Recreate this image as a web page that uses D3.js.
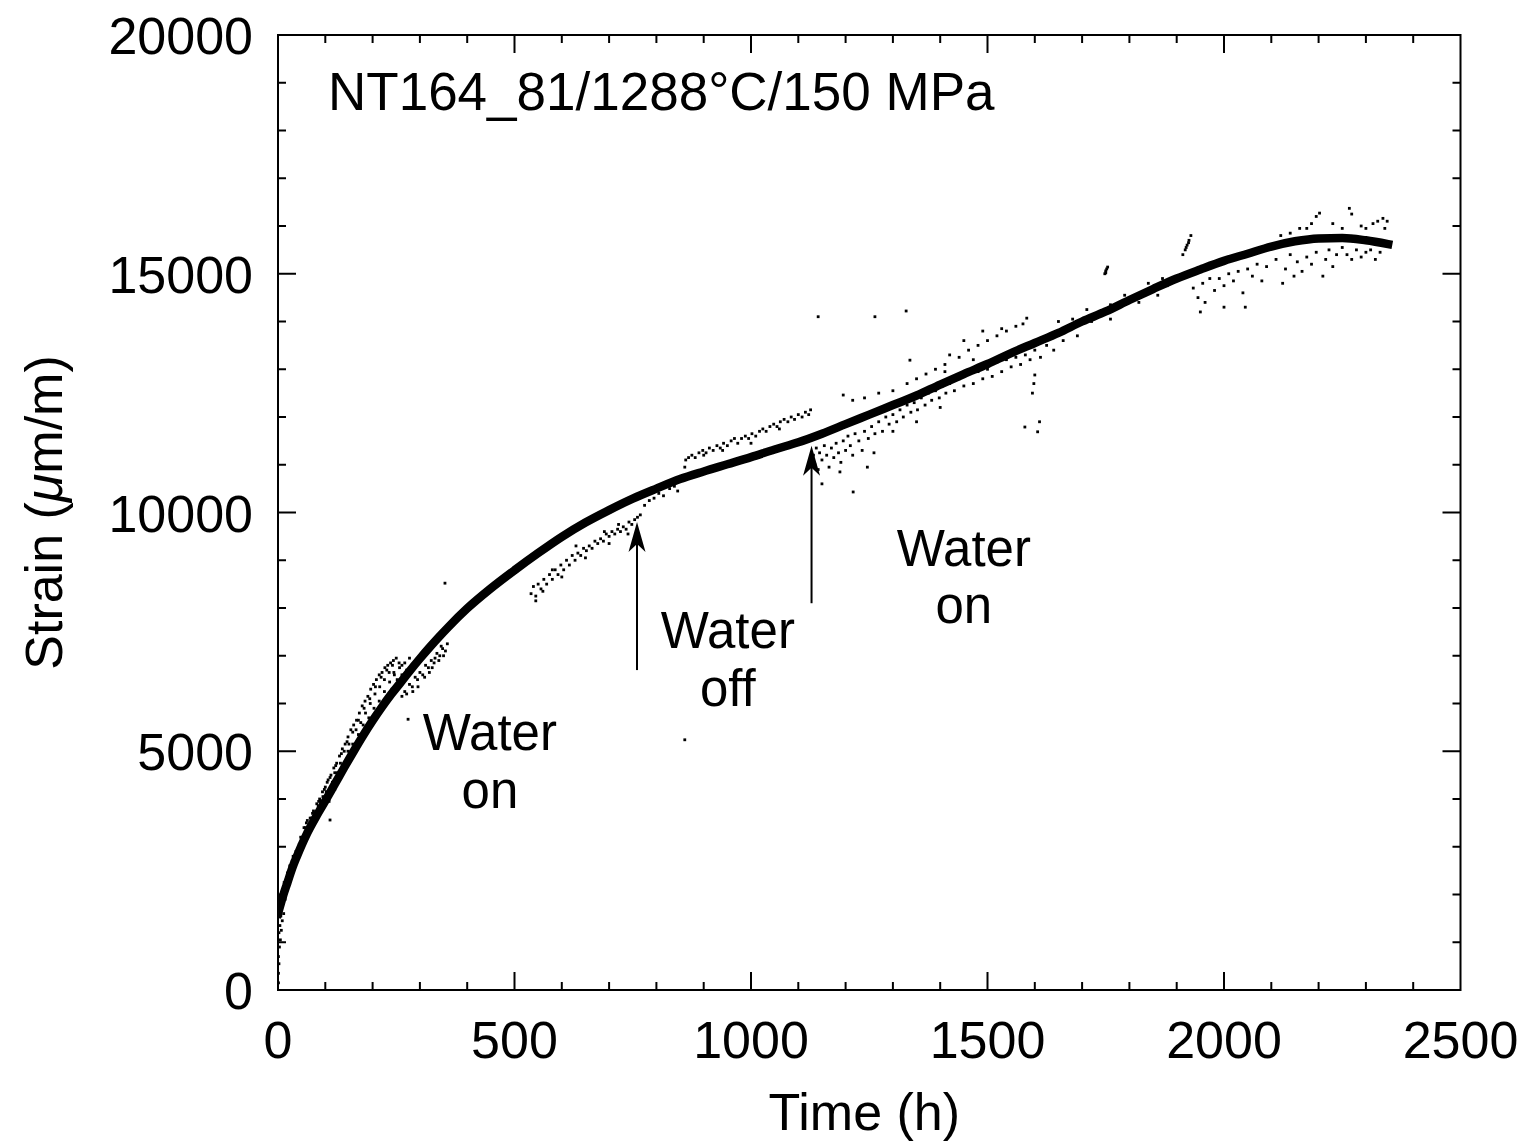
<!DOCTYPE html>
<html>
<head>
<meta charset="utf-8">
<script src="https://cdn.jsdelivr.net/npm/d3@7"></script>
<style>
html,body{margin:0;padding:0;background:#fff;}
svg text{font-family:"Liberation Sans",Arial,Helvetica,sans-serif;fill:#000;}
</style>
</head>
<body>
<svg id="chart" width="1528" height="1146"></svg>
<script>
// ---------------- DATA ----------------
const xTicks = [0, 500, 1000, 1500, 2000, 2500];
const yTicks = [0, 5000, 10000, 15000, 20000];
const titleText = "NT164_81/1288°C/150 MPa";
const xLabel = "Time (h)";

// smoothed fit curve (time h, strain µm/m)
const curveT = [0, 10, 20, 30, 40, 60, 80, 100, 120, 140, 160, 180, 200, 220, 240, 260, 280, 300, 320, 340, 360, 400, 450, 500, 550, 600, 650, 700, 750, 800, 850, 900, 950, 1000, 1050, 1100, 1150, 1200, 1250, 1300, 1350, 1400, 1450, 1500, 1550, 1600, 1650, 1700, 1750, 1800, 1850, 1900, 1950, 2000, 2050, 2100, 2150, 2200, 2250, 2300, 2347];
const curveS = [1600, 1950, 2250, 2550, 2800, 3250, 3620, 3960, 4310, 4660, 5000, 5330, 5640, 5930, 6200, 6450, 6700, 6940, 7170, 7390, 7600, 7990, 8410, 8790, 9150, 9490, 9790, 10050, 10290, 10500, 10700, 10860, 11010, 11160, 11320, 11470, 11650, 11850, 12050, 12250, 12450, 12680, 12900, 13110, 13340, 13550, 13760, 14000, 14210, 14450, 14680, 14900, 15090, 15270, 15420, 15570, 15680, 15740, 15750, 15700, 15620];

// raw measured points, grouped by period
const rawStart = [[1,150],[1,350],[2,550],[1,700],[3,900],[5,1050],[2,1200],[7,1250],[4,1350],[9,1450],[6,1550],[12,1600],[3,1700],[10,1800],[15,1900],[8,2000],[18,2150],[13,2250],[22,2300],[26,2450],[5,1750],[11,2050],[17,2300],[20,2450]];
const rawWaterOn1 = [[25,2600],[32,2800],[40,2750],[45,3050],[52,3100],[58,3400],[65,3350],[70,3600],[78,3550],[85,3850],[90,3700],[95,4050],[102,4150],[108,3950],[115,4350],[120,4200],[125,4550],[130,4400],[136,4700],[142,4650],[148,5000],[153,4850],[158,5150],[163,5050],[170,5350],[175,5250],[180,5550],[186,5400],[192,5700],[197,5600],[203,5900],[208,5750],[214,6050],[220,5950],[225,6250],[230,6100],[236,6450],[241,6300],[246,6600],[252,6500],[257,6750],[262,6600],[268,6850],[272,6700],[278,6950],[283,6800],
 [55,3400],[62,3550],[68,3600],[75,3750],[82,3900],[88,4000],[94,4150],[100,4250],[106,4400],[112,4500],[118,4650],[124,4750],[130,4900],[136,5050],[142,5150],[148,5300],[154,5450],[160,5550],[166,5650],[172,5800],[178,5950],[184,6050],[190,6150],[196,6300],[202,6400],[208,6500],[214,6600],[220,6650],[226,6750],[232,6800],[238,6850],[244,6900],[250,6950],[256,6850],[262,6800],[120,4550],[140,5000],[165,5450],[185,5800],[205,6200],[225,6500],[245,6650],[104,4350],[150,5150],[195,6000],[235,6650],[215,6350],[175,5600],[132,4750],[90,3950],
 [60,3500],[73,3700],[86,3950],[98,4200],[110,4450],[122,4700],[134,4950],[146,5200],[158,5400],[170,5650],[182,5900],[194,6100],[206,6350],[218,6550],[230,6700],[242,6800],[30,2700],[38,2900],[48,3200],
 [35,2650],[45,2950],[50,3000],[72,3450],[110,3560],[135,4600],[155,4950],[210,5800],[250,6350],[270,6550],
 [262,6150],[268,6250],[272,6200],[278,6400],[284,6350],[290,6550],[295,6500],[300,6650],[306,6600],[312,6800],[318,6750],[324,6900],[330,6850],[336,7050],[342,7000],[348,7150],[354,7100],[358,7250],[350,7000],[320,6650],[285,6250],[345,7200],[332,6950],[275,5670],[353,8520],[296,6350],[310,6550],[326,6750],[340,6900],
 [535,8300],[540,8450],[545,8250],[550,8500],[556,8400],[562,8600],[568,8500],[574,8700],[580,8600],[586,8800],[592,8700],[598,8900],[604,8800],[610,9000],[616,8900],[622,9100],[628,9000],[634,9150],[640,9100],[646,9250],[652,9200],[658,9300],[664,9250],[670,9400],[676,9350],[682,9450],[688,9400],[694,9550],[700,9500],[706,9600],[712,9550],[718,9650],[724,9600],[730,9700],[736,9650],[742,9800],[748,9750],[754,9850],[760,9900],[545,8150],[600,8650],[650,9050],[700,9350],[740,9550],[580,8800],[630,9300],[690,9600],[560,8350],[720,9750]];
const rawWaterOff = [[766,9950],[775,10150],[785,10250],[795,10300],[805,10400],[815,10350],[828,10500],[838,10550],[845,10450],[860,5240],
 [860,10950],[862,11100],[868,11150],[875,11200],[882,11150],[890,11250],[898,11300],[905,11250],[912,11350],[920,11300],[928,11400],[935,11350],[942,11450],[950,11400],[958,11500],[965,11550],[972,11450],[980,11550],[988,11600],[995,11550],[1002,11650],[1010,11600],[1018,11700],[1025,11750],[1032,11700],[1040,11800],[1048,11850],[1055,11800],[1062,11900],[1070,11950],[1078,11900],[1085,12000],[1092,11950],[1100,12050],[1108,12000],[1115,12100],[1122,12050],[1126,12150],[900,11200],[940,11300],[1000,11450],[1060,11750]];
const rawWaterOn2 = [[1132,11200],[1135,11000],[1138,11350],[1142,10900],[1145,11250],[1150,11100],[1155,11400],[1160,11200],[1165,10950],[1170,11350],[1175,11150],[1180,11450],[1185,11250],[1190,11050],[1195,11500],[1200,11300],[1205,11600],[1210,11400],[1215,11200],[1220,11650],[1228,11500],[1235,11300],[1240,11700],[1248,11550],[1255,11800],[1262,11650],[1270,11900],[1278,11700],[1285,12000],[1292,11850],[1300,12050],[1308,11900],[1315,12150],[1322,12000],[1330,12250],[1338,12100],[1345,12300],[1352,12150],[1360,12400],[1368,12250],[1375,12500],[1382,12350],[1390,12550],[1398,12400],[1405,12650],[1412,12500],[1420,12700],[1430,12550],[1440,12800],[1450,12650],[1460,12900],[1470,12700],[1480,12950],[1490,12800],[1500,13000],[1510,12850],[1520,13150],[1530,12950],[1540,13200],[1550,13050],[1560,13250],[1570,13100],[1580,13300],[1590,13200],[1600,13400],[1612,13250],[1625,13500],[1640,13400],[1150,10600],[1188,10850],[1216,10430],[1246,10950],[1260,11250],[1300,11700],[1350,11900],[1400,12200],
 [1195,12460],[1215,12350],[1240,12400],[1270,12500],[1300,12550],[1330,12700],[1350,12800],[1370,12900],[1390,13000],[1410,13100],[1420,13300],[1440,13250],[1460,13400],[1480,13500],[1500,13600],[1520,13700],[1540,13800],[1560,13900],[1575,13950],[1450,13600],[1490,13800],[1530,13850],[1410,12950],[1470,13200],
 [1142,14100],[1262,14100],[1328,14220],[1336,13190],[1579,11790],[1606,11690],[1610,11900],[1595,12500],[1598,12700],[1600,12880],[1583,14070],
 [1680,14050],[1720,14000],[1760,14350],[1790,14550],[1820,14400],[1840,14800],[1860,14550],[1870,14900],[1880,14750],[1690,13700],[1710,14250],[1650,14000],[1660,13600],[1760,14050],
 [1748,15000],[1750,15060],[1752,15100],[1754,15140],[1750,15020],
 [1913,15400],[1918,15500],[1922,15600],[1926,15700],[1930,15800],[1920,15550],[1925,15650],
 [1935,14700],[1945,14500],[1955,14800],[1960,14400],[1970,14900],[1980,14650],[1990,14900],[2000,14750],[2010,15000],[2020,14850],[2030,15050],[2040,14600],[2050,15100],[2060,14950],[2070,15200],[2080,14850],[2090,15150],[1950,14200],[2000,14300],[2045,14300],
 [2110,15300],[2124,14800],[2130,15100],[2140,15400],[2148,14950],[2155,15250],[2165,15050],[2175,15350],[2185,15200],[2195,15450],[2209,14950],[2215,15300],[2222,15500],[2230,15150],[2238,15400],[2250,15550],[2260,15400],[2270,15300],[2280,15500],[2290,15350],[2300,15450],[2310,15500],[2320,15300],[2330,15450],
 [2120,15800],[2140,15850],[2160,15950],[2175,15950],[2185,16050],[2195,16200],[2202,16270],[2230,16050],[2250,15950],[2265,16370],[2270,16250],[2290,16000],[2300,15950],[2315,16050],[2325,16100],[2336,16160],[2340,15950],[2345,16100]];

// annotations: [label lines, centre time, baseline strain of first line]
const noteLabels = [["Water","on"],["Water","off"],["Water","on"]];
const noteT = [448, 951, 1450];
const noteS = [5020, 7160, 8880];
// arrows: time, tip strain, tail strain
const arrowT = [759, 1128];
const arrowTipS = [9800, 11400];
const arrowTailS = [6700, 8100];

// ---------------- CHART ----------------
const svg = d3.select("#chart");
const L = 278, R = 1460.5, T = 35, B = 990;
const x = d3.scaleLinear().domain([0, 2500]).range([L, R]);
const y = d3.scaleLinear().domain([0, 20000]).range([B, T]);
const FS = 52;
const NFS = 51;

svg.append("defs").append("clipPath").attr("id","clip")
  .append("rect").attr("x", L).attr("y", T).attr("width", R-L).attr("height", B-T);

const plot = svg.append("g").attr("clip-path","url(#clip)");

// raw points
const raw = rawStart.concat(rawWaterOn1, rawWaterOff, rawWaterOn2);
plot.append("g").selectAll("rect").data(raw).join("rect")
  .attr("x", d => x(d[0]) - 1.4).attr("y", d => y(d[1]) - 1.4)
  .attr("width", 2.8).attr("height", 2.8).attr("fill", "#000");

// fitted curve
const curveData = curveT.map((t, i) => [t, curveS[i]]);
plot.append("path").datum(curveData)
  .attr("d", d3.line().x(d => x(d[0])).y(d => y(d[1])).curve(d3.curveMonotoneX))
  .attr("fill","none").attr("stroke","#000").attr("stroke-width",8.5)
  .attr("stroke-linecap","square").attr("stroke-linejoin","round");

// frame
svg.append("rect").attr("x", L).attr("y", T).attr("width", R-L).attr("height", B-T)
  .attr("fill","none").attr("stroke","#000").attr("stroke-width",2);

// ticks (inward, all four sides)
const ticksG = svg.append("g").attr("stroke","#000").attr("stroke-width",2);
d3.range(0, 2501, 100).forEach(v => {
  const len = v % 500 === 0 ? 18 : 8;
  if (v === 0 || v === 2500) return;
  ticksG.append("line").attr("x1", x(v)).attr("x2", x(v)).attr("y1", B).attr("y2", B - len);
  ticksG.append("line").attr("x1", x(v)).attr("x2", x(v)).attr("y1", T).attr("y2", T + len);
});
d3.range(0, 20001, 1000).forEach(v => {
  const len = v % 5000 === 0 ? 18 : 8;
  if (v === 0 || v === 20000) return;
  ticksG.append("line").attr("y1", y(v)).attr("y2", y(v)).attr("x1", L).attr("x2", L + len);
  ticksG.append("line").attr("y1", y(v)).attr("y2", y(v)).attr("x1", R).attr("x2", R - len);
});

// tick labels
svg.append("g").selectAll("text").data(xTicks).join("text")
  .attr("x", d => x(d)).attr("y", B + 68).attr("text-anchor","middle")
  .attr("font-size", FS).text(d => d);
svg.append("g").selectAll("text").data(yTicks).join("text")
  .attr("x", L - 25).attr("y", d => y(d) + 19).attr("text-anchor","end")
  .attr("font-size", FS).text(d => d);

// axis titles
svg.append("text").attr("x", (L+R)/2 - 5).attr("y", 1130).attr("text-anchor","middle")
  .attr("font-size", FS).text(xLabel);
const yl = svg.append("text").attr("transform", `translate(62,${(T+B)/2}) rotate(-90)`)
  .attr("text-anchor","middle").attr("font-size", FS);
yl.append("tspan").text("Strain (");
yl.append("tspan").attr("font-style","italic").text("\u03BC");
yl.append("tspan").text("m/m)");

// title
svg.append("text").attr("x", L + 50).attr("y", 110).attr("font-size", 53).text(titleText);

// annotations (each line its own text element)
noteLabels.forEach((lines, i) => {
  lines.forEach((ln, j) => {
    svg.append("text").attr("text-anchor","middle").attr("font-size", NFS)
      .attr("x", x(noteT[i])).attr("y", y(noteS[i]) + j * 57.5).text(ln);
  });
});

// arrows
arrowT.forEach((t, i) => {
  const ax = x(t), tip = y(arrowTipS[i]), tail = y(arrowTailS[i]);
  svg.append("line").attr("x1", ax).attr("x2", ax).attr("y1", tail).attr("y2", tip + 20)
    .attr("stroke","#000").attr("stroke-width",2);
  svg.append("path")
    .attr("d", `M${ax},${tip} L${ax+8.5},${tip+30} L${ax},${tip+22} L${ax-8.5},${tip+30} Z`)
    .attr("fill","#000");
});
</script>
</body>
</html>
